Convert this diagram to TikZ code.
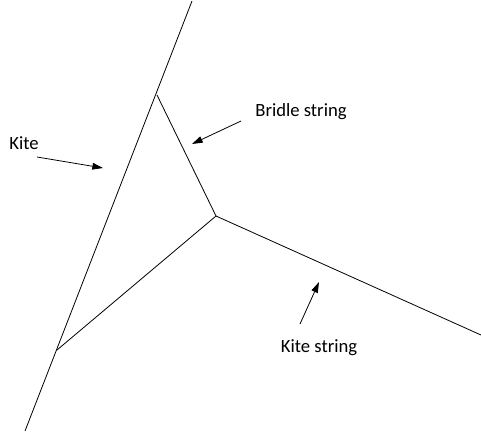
\documentclass[tikz,border=0pt]{standalone}
\usepackage{fontspec}
\setmainfont{Carlito}
\usetikzlibrary{arrows.meta}

\begin{document}
\begin{tikzpicture}[
  x=0.75pt, y=-0.75pt,
  line width=0.6pt,
  lbl/.style={font=\fontsize{14}{16}\selectfont, inner sep=0pt},
  arr/.style={-{Triangle[length=8pt,width=5pt]}}
]
\useasboundingbox (0,0) rectangle (481,433);
% kite and bridle points
\coordinate (top) at (192,1);
\coordinate (bot) at (25,431);
\coordinate (bt) at (157,95);
\coordinate (bb) at (57,350);
\coordinate (knot) at (216,216);
\coordinate (far) at (481,335);

\draw (top) -- (bot);
\draw (bt) -- (knot) -- (bb);
\draw (knot) -- (far);

% labels
\node[lbl] (kite) at (24,143) {Kite};
\node[lbl] (bridle) at (301,112) {Bridle string};
\node[lbl] (ks) at (319,348) {Kite string};

\coordinate (kiteT) at (37,157);
\coordinate (kiteH) at (103,168);
\coordinate (brT) at (241,121);
\coordinate (brH) at (192,144);
\coordinate (ksT) at (300,324);
\coordinate (ksH) at (319,282);

\draw[arr] (kiteT) -- (kiteH);
\draw[arr] (brT) -- (brH);
\draw[arr] (ksT) -- (ksH);
\end{tikzpicture}
\end{document}
